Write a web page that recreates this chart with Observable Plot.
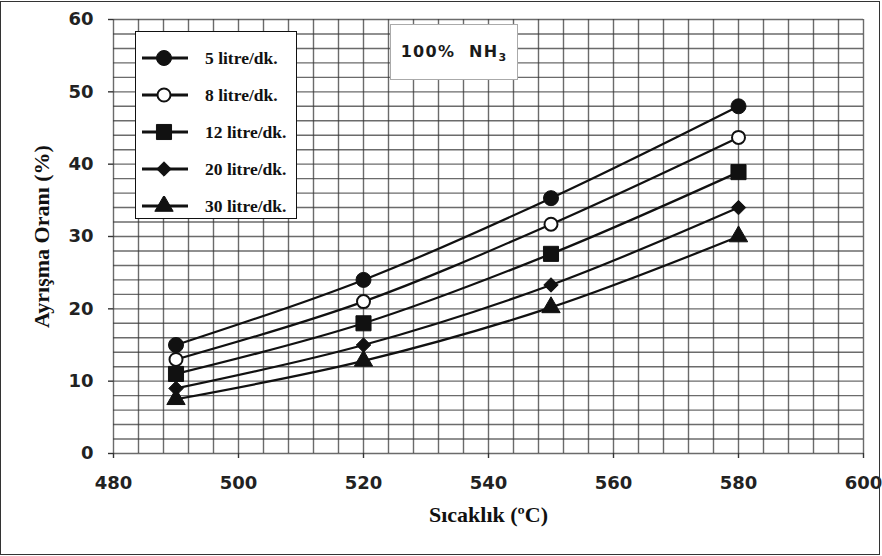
<!DOCTYPE html>
<html>
<head>
<meta charset="utf-8">
<script src="https://cdn.jsdelivr.net/npm/d3@7"></script>
<script src="https://cdn.jsdelivr.net/npm/@observablehq/plot@0.6"></script>
<style>
  html, body { margin: 0; padding: 0; background: #fff; }
  #wrap { position: relative; width: 882px; height: 556px; overflow: hidden; background: #fff; }
  #border { position: absolute; left: 0; top: 1px; width: 878px; height: 552px; border: 1.5px solid #333; pointer-events: none; }
  #chart { position: absolute; left: 0; top: 0; }
  #title { position: absolute; left: 390px; top: 24px; width: 128px; height: 56px; background: #fff; border: 1px solid #aaa;
           font-family: "DejaVu Sans", sans-serif; font-weight: bold; font-size: 16px; color: #1a1a1a; letter-spacing: 1.3px;
           display: flex; align-items: center; justify-content: center; box-sizing: border-box; padding-bottom: 2px; }
  #title span { white-space: nowrap; }
  #title sub { font-size: 11px; position: relative; top: 4px; vertical-align: baseline; line-height: 0; }
  #legend { position: absolute; left: 135px; top: 31px; width: 162px; height: 188px; background: #fff; border: 1.5px solid #111; box-sizing: border-box; }
  .row { position: absolute; left: 0; height: 20px; display: flex; align-items: center; }
  .row svg { position: absolute; left: 6px; top: 0; }
  .row span { position: absolute; left: 69px; white-space: nowrap; font-family: "Liberation Serif", "Times New Roman", serif; font-weight: bold; font-size: 17.5px; color: #111; line-height: 20px; }
</style>
</head>
<body>
<div id="wrap">
  <div id="chart"></div>
  <div id="title"><span>100%&nbsp;&nbsp;NH<sub>3</sub></span></div>
  <div id="legend"></div>
  <div id="border"></div>
</div>
<script>
// ---- data ----
const temps = [490, 520, 550, 580];
const seriesNames = ["5 litre/dk.", "8 litre/dk.", "12 litre/dk.", "20 litre/dk.", "30 litre/dk."];
const flow5  = [15.0, 24.0, 35.3, 48.0];
const flow8  = [13.0, 21.0, 31.7, 43.7];
const flow12 = [11.0, 18.0, 27.6, 38.9];
const flow20 = [9.0, 15.0, 23.3, 34.0];
const flow30 = [7.5, 12.8, 20.2, 30.0];
const xTicks = [480, 500, 520, 540, 560, 580, 600];
const yTicks = [0, 10, 20, 30, 40, 50, 60];
const xGrid = d3.range(480, 601, 4);
const yGrid = d3.range(0, 61, 2);
const xLabel = "Sıcaklık (ºC)";
const yLabel = "Ayrışma Oranı (%)";

const seriesValues = [flow5, flow8, flow12, flow20, flow30];
const symbols = [
  {symbol: "circle",   r: 7.5, fill: "#111", stroke: "#111", sw: 1},
  {symbol: "circle",   r: 6.5, fill: "#fff", stroke: "#111", sw: 2},
  {symbol: "square",   r: 8.5, fill: "#111", stroke: "#111", sw: 1},
  {symbol: "diamond2", r: 6.5, fill: "#111", stroke: "#111", sw: 1},
  {symbol: "triangle", r: 6.8, fill: "#111", stroke: "#111", sw: 1}
];

const rows = [];
seriesNames.forEach((name, i) => {
  temps.forEach((t, j) => rows.push({series: name, temp: t, value: seriesValues[i][j]}));
});

const dotMarks = seriesNames.map((name, i) => Plot.dot(rows.filter(d => d.series === name), {
  x: "temp", y: "value", symbol: symbols[i].symbol, r: symbols[i].r,
  fill: symbols[i].fill, stroke: symbols[i].stroke, strokeWidth: symbols[i].sw
}));

const chart = Plot.plot({
  width: 882,
  height: 556,
  marginLeft: 113,
  marginRight: 19,
  marginTop: 19,
  marginBottom: 103,
  style: {background: "transparent", overflow: "visible"},
  x: {domain: [480, 600], label: null},
  y: {domain: [0, 60], label: null},
  marks: [
    Plot.gridX(xGrid, {stroke: "#3a3a3a", strokeOpacity: 0.75, strokeWidth: 1.4}),
    Plot.gridY(yGrid, {stroke: "#3a3a3a", strokeOpacity: 0.75, strokeWidth: 1.4}),
    Plot.axisX(xTicks, {tickSize: 5, tickPadding: 18, stroke: "#333", strokeWidth: 1.4, fill: "#222",
      fontFamily: "DejaVu Sans, sans-serif", fontWeight: "bold", fontSize: 18, label: null, tickFormat: d => String(d)}),
    Plot.axisY(yTicks, {tickSize: 5, tickPadding: 15, stroke: "#333", strokeWidth: 1.4, fill: "#222",
      fontFamily: "DejaVu Sans, sans-serif", fontWeight: "bold", fontSize: 18, label: null, tickFormat: d => String(d)}),
    Plot.line(rows, {x: "temp", y: "value", z: "series", stroke: "#111", strokeWidth: 2.2, curve: "catmull-rom"}),
    ...dotMarks,
    Plot.text([xLabel], {frameAnchor: "bottom", dy: 68, text: d => d, textAnchor: "middle", fontFamily: "Liberation Serif, Times New Roman, serif",
      fontWeight: "bold", fontSize: 22, fill: "#111"}),
    Plot.text([yLabel], {frameAnchor: "left", dx: -72, rotate: -90, text: d => d, textAnchor: "middle", fontFamily: "Liberation Serif, Times New Roman, serif",
      fontWeight: "bold", fontSize: 22, fill: "#111"})
  ]
});
document.getElementById("chart").appendChild(chart);

// ---- legend ----
const legend = d3.select("#legend");
const symMap = {circle: d3.symbolCircle, square: d3.symbolSquare, diamond2: d3.symbolDiamond2, triangle: d3.symbolTriangle};
seriesNames.forEach((name, i) => {
  const row = legend.append("div").attr("class", "row").style("top", (27 + i * 37 - 10 - 1.5) + "px");
  const svg = row.append("svg").attr("width", 48).attr("height", 20);
  svg.append("line").attr("x1", 0).attr("x2", 46).attr("y1", 10).attr("y2", 10)
    .attr("stroke", "#111").attr("stroke-width", 3);
  const s = symbols[i];
  svg.append("path")
    .attr("d", d3.symbol(symMap[s.symbol], Math.PI * s.r * s.r)())
    .attr("transform", "translate(22,10)")
    .attr("fill", s.fill).attr("stroke", s.stroke).attr("stroke-width", s.sw);
  row.append("span").text(name);
});
</script>
</body>
</html>
